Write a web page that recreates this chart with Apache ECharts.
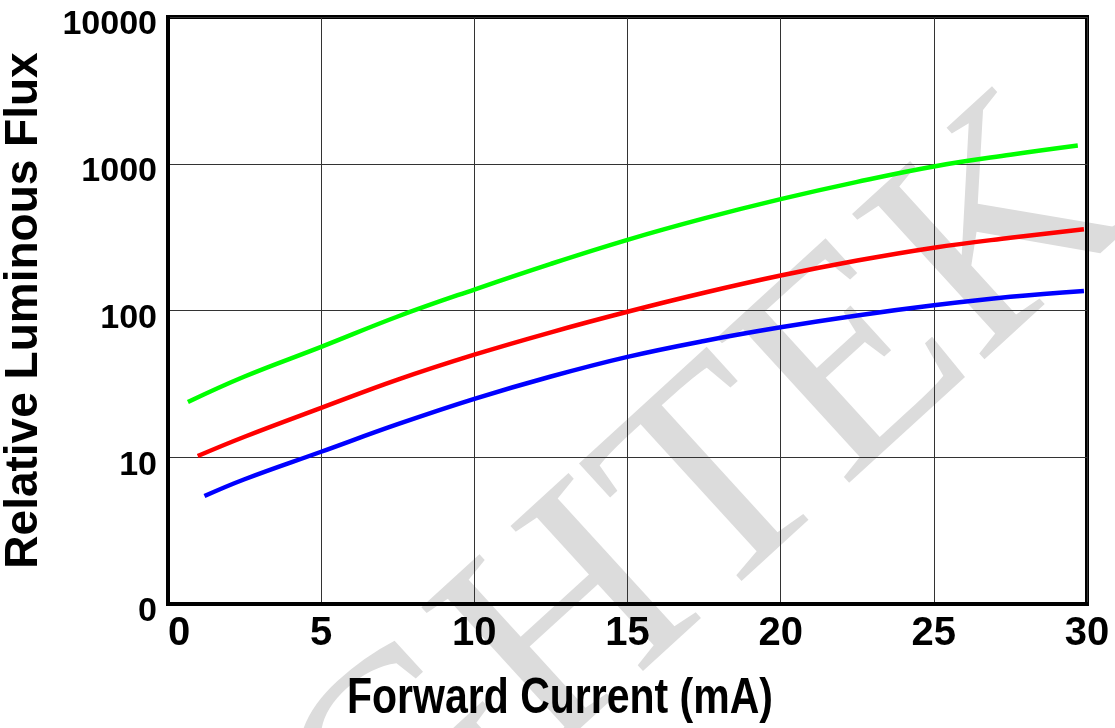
<!DOCTYPE html>
<html>
<head>
<meta charset="utf-8">
<script src="https://cdn.jsdelivr.net/npm/echarts@6/dist/echarts.min.js"></script>
<style>
  html, body { margin: 0; padding: 0; background: #fff; }
  #chart { width: 1115px; height: 728px; }
</style>
</head>
<body>
<div id="chart"></div>
<script>
// forward current (mA) -> relative luminous flux
const greenX = [0.65, 2.5, 5, 7.5, 10, 12.5, 15, 17.5, 20, 22.5, 25, 27.5, 29.7]
const greenY = [23.8, 35.5, 56.5, 91, 139, 208, 303, 424, 574, 753, 959, 1152, 1331]
const redX = [0.97, 2.5, 5, 7.5, 10, 12.5, 15, 17.5, 20, 22.5, 25, 27.5, 29.9]
const redY = [10.2, 13.8, 21.7, 33.8, 50, 71, 98, 132, 173, 219, 268, 313, 358]
const blueX = [1.19, 2.5, 5, 7.5, 10, 12.5, 15, 17.5, 20, 22.5, 25, 27.5, 29.9]
const blueY = [5.44, 7.08, 10.9, 16.8, 25, 35.5, 48.3, 62, 76.8, 92.5, 108.5, 124, 136]
const yTicks = [1, 10, 100, 1000, 10000]

const pairs = (xs, ys) => xs.map((x, i) => [x, ys[i]])

const chart = echarts.init(document.getElementById('chart'))

const lineSeries = (name, color, xs, ys) => ({
  name: name,
  type: 'line',
  smooth: 0.4,
  showSymbol: false,
  data: pairs(xs, ys),
  lineStyle: { color: color, width: 4.5 },
  z: 5
})

chart.setOption({
  animation: false,
  backgroundColor: '#fff',
  grid: {
    left: 168,
    right: 28,
    top: 17,
    bottom: 124,
    outerBoundsMode: 'none',
    show: true,
    borderColor: '#000',
    borderWidth: 4
  },
  graphic: [
    {
      // faint watermark behind the plot
      type: 'text',
      x: 525,
      y: 672,
      rotation: 0.74,
      silent: true,
      z: -10,
      style: {
        text: 'BRIGHTEK',
        font: '300px "Liberation Serif", serif',
        fill: '#dcdcdc',
        align: 'center',
        verticalAlign: 'middle'
      }
    },
    {
      // x axis title, squeezed like the narrow font of the original
      type: 'text',
      x: 560,
      y: 699,
      scaleX: 0.82,
      silent: true,
      style: {
        text: 'Forward Current (mA)',
        font: 'bold 50px "Liberation Sans", Arial, sans-serif',
        fill: '#000',
        align: 'center',
        verticalAlign: 'middle'
      }
    }
  ],
  xAxis: {
    type: 'value',
    min: 0,
    max: 30,
    interval: 5,
    axisLine: { show: true, lineStyle: { color: '#000', width: 4 } },
    axisTick: { show: false },
    splitLine: { show: true, lineStyle: { color: '#333', width: 1 } },
    axisLabel: {
      color: '#000',
      fontWeight: 'bold',
      fontSize: 40,
      fontFamily: '"Liberation Sans", Arial, sans-serif',
      margin: 10,
      alignMinLabel: 'left'
    }
  },
  yAxis: {
    type: 'log',
    logBase: 10,
    min: yTicks[0],
    max: yTicks[yTicks.length - 1],
    name: 'Relative Luminous Flux',
    nameLocation: 'middle',
    nameGap: 121,
    nameTextStyle: {
      color: '#000',
      fontWeight: 'bold',
      fontSize: 46,
      fontFamily: '"Liberation Sans", Arial, sans-serif'
    },
    axisLine: { show: true, lineStyle: { color: '#000', width: 4 } },
    axisTick: { show: false },
    splitLine: { show: true, lineStyle: { color: '#333', width: 1 } },
    axisLabel: {
      color: '#000',
      fontWeight: 'bold',
      fontSize: 34,
      fontFamily: '"Liberation Sans", Arial, sans-serif',
      margin: 11,
      verticalAlign: 'top',
      lineHeight: 16,
      formatter: v => (v === 1 ? '0' : String(v))
    }
  },
  series: [
    lineSeries('green', '#00ff00', greenX, greenY),
    lineSeries('red', '#ff0000', redX, redY),
    lineSeries('blue', '#0000ff', blueX, blueY)
  ]
})
</script>
</body>
</html>
